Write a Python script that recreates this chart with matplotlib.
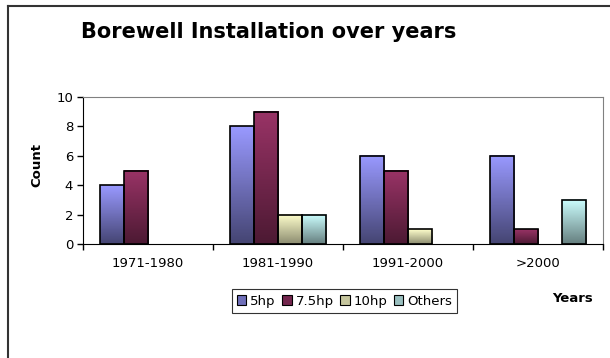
import matplotlib
matplotlib.use('Agg')

import matplotlib.pyplot as plt
import numpy as np
from matplotlib.colors import LinearSegmentedColormap, to_rgb
from matplotlib.lines import Line2D
from matplotlib.patches import Patch

periods = ['1971-1980', '1981-1990', '1991-2000', '>2000']
series = ['5hp', '7.5hp', '10hp', 'Others']
hp5 = [4, 8, 6, 6]
hp75 = [5, 9, 5, 1]
hp10 = [0, 2, 1, 0]
others = [0, 2, 0, 3]

# light colour at the top of each bar, darkened towards the base
top_colors = ['#9999ff', '#993366', '#ffffcc', '#ccffff']
shade = [0.45, 0.5, 0.55, 0.5]

fig = plt.figure(figsize=(6.1, 3.58), dpi=100)
ax = fig.add_axes([0.136, 0.318, 0.8525, 0.411])

x = np.arange(len(periods))
width = 0.185
grad = np.linspace(0, 1, 64).reshape(-1, 1)
handles = []
for i, (name, vals) in enumerate(zip(series, [hp5, hp75, hp10, others])):
    top = to_rgb(top_colors[i])
    bottom = tuple(c * shade[i] for c in top)
    cmap = LinearSegmentedColormap.from_list(name, [bottom, top])
    bars = ax.bar(x + (i - 1.5) * width, vals, width, facecolor='none',
                  edgecolor='black', linewidth=1.2, zorder=3)
    for b, v in zip(bars, vals):
        if v == 0:
            b.set_linewidth(0)
            continue
        x0, y0 = b.get_x(), b.get_y()
        ax.imshow(grad, cmap=cmap, origin='lower', aspect='auto', zorder=2,
                  extent=[x0, x0 + b.get_width(), y0, y0 + b.get_height()])
    mid = tuple(c * (1 + shade[i]) / 2 for c in top)
    handles.append(Patch(facecolor=mid, edgecolor='black', linewidth=0.8, label=name))

ax.set_xlim(-0.5, len(periods) - 0.5)
ax.set_ylim(0, 10)
ax.set_yticks(range(0, 11, 2))
ax.set_xticks(np.arange(len(periods) + 1) - 0.5)
ax.set_xticklabels([])
ax.set_xticks(x, minor=True)
ax.set_xticklabels(periods, minor=True)
ax.tick_params(axis='x', which='major', length=4, direction='out', width=1)
ax.tick_params(axis='x', which='minor', length=0, pad=9, labelsize=9.5)
ax.tick_params(axis='y', length=4, direction='out', width=1, labelsize=9.5, pad=3)

for side in ['top', 'right']:
    ax.spines[side].set_color('#808080')
for side in ['left', 'bottom']:
    ax.spines[side].set_color('black')

fig.text(0.441, 0.894, 'Borewell Installation over years', ha='center',
         va='baseline', fontsize=15, fontweight='bold')
fig.text(0.061, 0.539, 'Count', rotation=90, ha='center', va='center',
         fontsize=9.5, fontweight='bold')
fig.text(0.939, 0.165, 'Years', ha='center', va='center',
         fontsize=9.5, fontweight='bold')

leg = fig.legend(handles=handles, ncol=4, loc='center', bbox_to_anchor=(0.565, 0.159),
                 fontsize=9.5, frameon=True, fancybox=False, handlelength=0.7,
                 handleheight=0.7, handletextpad=0.3, columnspacing=0.5,
                 borderpad=0.4, borderaxespad=0)
leg.get_frame().set_edgecolor('black')
leg.get_frame().set_linewidth(0.8)

# chart area border on the left and top edges
fig.add_artist(Line2D([0.0123, 0.0123], [0, 0.9846], transform=fig.transFigure,
                      color='#333333', lw=1.5))
fig.add_artist(Line2D([0.0123, 1], [0.9846, 0.9846], transform=fig.transFigure,
                      color='#333333', lw=1.5))

fig.savefig('out.png', dpi=100)
